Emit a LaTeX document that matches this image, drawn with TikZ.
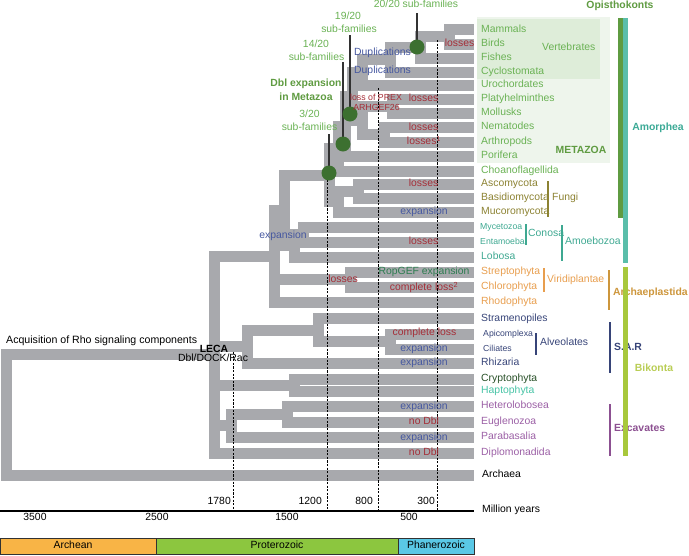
\documentclass[tikz,border=0pt]{standalone}
\usepackage{fontspec}
\setmainfont{Liberation Sans}
\definecolor{treegray}{RGB}{168,169,173}
\definecolor{metag}{RGB}{106,178,84}
\definecolor{fung}{RGB}{140,130,50}
\definecolor{amoe}{RGB}{62,168,145}
\definecolor{arch}{RGB}{232,158,78}
\definecolor{archb}{RGB}{205,150,60}
\definecolor{sarb}{RGB}{55,68,120}
\definecolor{crypt}{RGB}{40,80,40}
\definecolor{hapt}{RGB}{70,195,165}
\definecolor{exca}{RGB}{155,95,165}
\definecolor{excab}{RGB}{140,80,145}
\definecolor{redl}{RGB}{165,45,55}
\definecolor{bluel}{RGB}{70,88,160}
\definecolor{ropg}{RGB}{45,125,80}
\definecolor{circg}{RGB}{60,112,48}
\definecolor{opig}{RGB}{95,155,65}
\definecolor{amort}{RGB}{90,190,170}
\definecolor{amortx}{RGB}{60,170,150}
\definecolor{bikg}{RGB}{168,200,60}
\definecolor{bikx}{RGB}{185,205,85}
\definecolor{metabg}{RGB}{238,245,236}
\definecolor{vertbg}{RGB}{222,237,217}
\definecolor{archeanc}{RGB}{248,180,70}
\definecolor{proterc}{RGB}{140,198,63}
\definecolor{phanc}{RGB}{90,200,230}
\definecolor{linec}{RGB}{50,50,50}
\newcommand\tspan[3]{\draw[vb] (#1 |- #2) -- (#1 |- #3);}
\newcommand\tkid[2]{\draw[hb] (#1 |- #2) -- (#2);}
\begin{document}
\begin{tikzpicture}[x=1pt,y=-1pt,font=\fontsize{10.4}{12}\selectfont,
  vb/.style={draw=treegray,line width=11pt,line cap=rect},
  hb/.style={draw=treegray,line width=11pt,line cap=butt},
  dl/.style={black,line width=0.6pt,dash pattern=on 2.2pt off 1.4pt},
  tx/.style={inner sep=0pt,text height=7.5pt,text depth=2pt},
  lf/.style={tx,anchor=west},
  sm/.style={font=\fontsize{8.7}{10}\selectfont},
  bd/.style={font=\fontsize{10.4}{12}\selectfont\bfseries},
  brk/.style={line width=1.3pt},
  red/.style={tx,text=redl},
  blu/.style={tx,text=bluel},
  circ/.style={fill=circg},
  pin/.style={draw=linec,line width=1.6pt}]
\useasboundingbox (0,0) rectangle (689,555);
% background boxes
\fill[metabg] (477,17) rectangle (610,163);
\fill[vertbg] (477,19) rectangle (600,79);
% leaves
\coordinate (mam) at (474,29);
\coordinate (bir) at (474,44);
\coordinate (fis) at (474,58);
\coordinate (cyc) at (474,72);
\coordinate (uro) at (474,85);
\coordinate (pla) at (474,99);
\coordinate (mol) at (474,113);
\coordinate (nem) at (474,127);
\coordinate (art) at (474,142);
\coordinate (por) at (474,156);
\coordinate (cho) at (474,171);
\coordinate (asc) at (474,184);
\coordinate (bas) at (474,198);
\coordinate (muc) at (474,212);
\coordinate (myc) at (474,227);
\coordinate (ent) at (474,242);
\coordinate (lob) at (474,257);
\coordinate (str) at (474,272);
\coordinate (chl) at (474,287);
\coordinate (rho) at (474,302);
\coordinate (stm) at (474,318);
\coordinate (api) at (474,334);
\coordinate (cil) at (474,349);
\coordinate (rhz) at (474,363);
\coordinate (cry) at (474,379);
\coordinate (hap) at (474,391);
\coordinate (het) at (474,406);
\coordinate (eug) at (474,422);
\coordinate (par) at (474,437);
\coordinate (dip) at (474,453);
\coordinate (arc) at (474,475);
% internal nodes
\coordinate (amn) at (449,36.5);
\coordinate (gna) at (420,47.25);
\coordinate (ver) at (390,59.6);
\coordinate (cor) at (362,72.3);
\coordinate (lop) at (392,106);
\coordinate (ecd) at (384,134.5);
\coordinate (pro) at (362,120.25);
\coordinate (bil) at (352,96.3);
\coordinate (met) at (345,126);
\coordinate (hol) at (338,148.5);
\coordinate (dik) at (358,191);
\coordinate (fun) at (338,201.5);
\coordinate (opi) at (329,175);
\coordinate (con) at (303,234.5);
\coordinate (amz) at (294,245.75);
\coordinate (amo) at (284,210);
\coordinate (vir) at (350,279.5);
\coordinate (aa) at (274,256);
\coordinate (alv) at (390,341.5);
\coordinate (sa) at (318,330);
\coordinate (sar) at (247,346.4);
\coordinate (ch) at (294,385);
\coordinate (hee) at (287,414);
\coordinate (exc) at (231,425.5);
\coordinate (leca) at (214,354);
\coordinate (root) at (6,414);
% tree
\tspan{root}{leca}{arc}\tkid{root}{leca}\tkid{root}{arc}
\tspan{leca}{aa}{dip}\tkid{leca}{aa}\tkid{leca}{sar}\tkid{leca}{ch}\tkid{leca}{exc}\tkid{leca}{dip}
\tspan{aa}{amo}{rho}\tkid{aa}{amo}\tkid{aa}{vir}\tkid{aa}{rho}
\tspan{amo}{opi}{amz}\tkid{amo}{opi}\tkid{amo}{amz}
\tspan{opi}{hol}{fun}\tkid{opi}{hol}\tkid{opi}{fun}
\tspan{hol}{met}{cho}\tkid{hol}{met}\tkid{hol}{cho}
\tspan{met}{bil}{por}\tkid{met}{bil}\tkid{met}{por}
\tspan{bil}{cor}{pro}\tkid{bil}{cor}\tkid{bil}{pro}
\tspan{cor}{ver}{uro}\tkid{cor}{ver}\tkid{cor}{uro}
\tspan{ver}{gna}{cyc}\tkid{ver}{gna}\tkid{ver}{cyc}
\tspan{gna}{amn}{fis}\tkid{gna}{amn}\tkid{gna}{fis}
\tspan{amn}{mam}{bir}\tkid{amn}{mam}\tkid{amn}{bir}
\tspan{pro}{lop}{ecd}\tkid{pro}{lop}\tkid{pro}{ecd}
\tspan{lop}{pla}{mol}\tkid{lop}{pla}\tkid{lop}{mol}
\tspan{ecd}{nem}{art}\tkid{ecd}{nem}\tkid{ecd}{art}
\tspan{fun}{dik}{muc}\tkid{fun}{dik}\tkid{fun}{muc}
\tspan{dik}{asc}{bas}\tkid{dik}{asc}\tkid{dik}{bas}
\tspan{amz}{con}{lob}\tkid{amz}{con}\tkid{amz}{lob}
\tspan{con}{myc}{ent}\tkid{con}{myc}\tkid{con}{ent}
\tspan{vir}{str}{chl}\tkid{vir}{str}\tkid{vir}{chl}
\tspan{sar}{sa}{rhz}\tkid{sar}{sa}\tkid{sar}{rhz}
\tspan{sa}{stm}{alv}\tkid{sa}{stm}\tkid{sa}{alv}
\tspan{alv}{api}{cil}\tkid{alv}{api}\tkid{alv}{cil}
\tspan{ch}{cry}{hap}\tkid{ch}{cry}\tkid{ch}{hap}
\tspan{exc}{hee}{par}\tkid{exc}{hee}\tkid{exc}{par}
\tspan{hee}{het}{eug}\tkid{hee}{het}\tkid{hee}{eug}
% dashed time lines
\coordinate (d1t) at (233,352); \coordinate (d1b) at (233,511);
\coordinate (d2t) at (327,176); \coordinate (d2b) at (327,511);
\coordinate (d3t) at (378,88);  \coordinate (d3b) at (378,511);
\coordinate (d4t) at (437,40);  \coordinate (d4b) at (437,511);
\draw[dl] (d1t) -- (d1b); \draw[dl] (d2t) -- (d2b);
\draw[dl] (d3t) -- (d3b); \draw[dl] (d4t) -- (d4b);
% pins and circles
\coordinate (c1) at (417,47);  \coordinate (p1) at (417,13);
\coordinate (c2) at (350,114); \coordinate (p2) at (350,35);
\coordinate (c3) at (343,144); \coordinate (p3) at (343,62);
\coordinate (c4) at (329,173); \coordinate (p4) at (329,134);
\draw[pin] (p1) -- (c1); \draw[pin] (p2) -- (c2);
\draw[pin] (p3) -- (c3); \draw[pin] (p4) -- (c4);
\fill[circ] (c1) circle (7.5pt); \fill[circ] (c2) circle (7.5pt);
\fill[circ] (c3) circle (7.5pt); \fill[circ] (c4) circle (7.5pt);
\node[tx,text=metag] (t20) at (416,5) {20/20 sub-families};
\node[tx,text=metag] (t19a) at (348,17) {19/20};
\node[tx,text=metag] (t19b) at (349,30) {sub-families};
\node[tx,text=metag] (t14a) at (316,45) {14/20};
\node[tx,text=metag] (t14b) at (316.5,58) {sub-families};
\node[tx,text=opig,bd] (dbla) at (306,84) {Dbl expansion};
\node[tx,text=opig,bd] (dblb) at (306,98) {in Metazoa};
\node[tx,text=metag] (t3a) at (309.5,115) {3/20};
\node[tx,text=metag] (t3b) at (309.5,128) {sub-families};
% annotations on branches
\node[red] (a1) at (459.5,44) {losses};
\node[blu] (a2) at (382.5,53) {Duplications};
\node[blu] (a3) at (382.5,71) {Duplications};
\node[red,font=\fontsize{8.8}{10}\selectfont] (a4) at (376,98) {loss of PREX};
\node[red,font=\fontsize{8.8}{10}\selectfont] (a5) at (376.5,108) {ARHGEF26};
\node[red] (a6) at (423.5,99) {losses};
\node[red] (a7) at (423.5,128) {losses};
\node[red] (a8) at (424,142) {losses$^{\mathrm{1}}$};
\node[red] (a9) at (423.5,184) {losses};
\node[blu] (a10) at (424,212) {expansion};
\node[blu] (a11) at (283,236) {expansion};
\node[red] (a12) at (423.5,242) {losses};
\node[tx,text=ropg] (a13) at (424,272) {RopGEF expansion};
\node[red] (a14) at (343,280) {losses};
\node[red] (a15) at (424,288) {complete loss$^{\mathrm{2}}$};
\node[red] (a16) at (424.5,333) {complete loss};
\node[blu] (a17) at (424,349) {expansion};
\node[blu] (a18) at (424,363) {expansion};
\node[blu] (a19) at (424,407) {expansion};
\node[red] (a20) at (424,422) {no Dbl};
\node[blu] (a21) at (424,438) {expansion};
\node[red] (a22) at (424,453) {no Dbl};
\node[tx,anchor=west,font=\fontsize{10.6}{12}\selectfont] (acq) at (6,341) {Acquisition of Rho signaling components};
\node[tx,bd] (lecat) at (214,350) {LECA};
\node[tx] (dock) at (213,359) {Dbl/DOCK/Rac};
% leaf labels
\node[lf,text=metag] (l1) at (481,30) {Mammals};
\node[lf,text=metag] (l2) at (481,44) {Birds};
\node[lf,text=metag] (l3) at (481,58) {Fishes};
\node[lf,text=metag] (l4) at (481,72) {Cyclostomata};
\node[lf,text=metag] (l5) at (481,85) {Urochordates};
\node[lf,text=metag] (l6) at (481,99) {Platyhelminthes};
\node[lf,text=metag] (l7) at (481,113) {Mollusks};
\node[lf,text=metag] (l8) at (481,127) {Nematodes};
\node[lf,text=metag] (l9) at (481,142) {Arthropods};
\node[lf,text=metag] (l10) at (481,156) {Porifera};
\node[lf,text=metag] (l11) at (481,171) {Choanoflagellida};
\node[lf,text=fung] (l12) at (481,184) {Ascomycota};
\node[lf,text=fung] (l13) at (481,198) {Basidiomycota};
\node[lf,text=fung] (l14) at (481,212) {Mucoromycota};
\node[lf,text=amoe,sm] (l15) at (480,227) {Mycetozoa};
\node[lf,text=amoe,sm] (l16) at (480,242) {Entamoeba};
\node[lf,text=amoe] (l17) at (481,257) {Lobosa};
\node[lf,text=arch] (l18) at (481,272) {Streptophyta};
\node[lf,text=arch] (l19) at (481,287) {Chlorophyta};
\node[lf,text=arch] (l20) at (481,302) {Rhodophyta};
\node[lf,text=sarb] (l21) at (481,319) {Stramenopiles};
\node[lf,text=sarb,sm] (l22) at (483,334) {Apicomplexa};
\node[lf,text=sarb,sm] (l23) at (483,349) {Ciliates};
\node[lf,text=sarb] (l24) at (481,363) {Rhizaria};
\node[lf,text=crypt] (l25) at (481,379) {Cryptophyta};
\node[lf,text=hapt] (l26) at (481,391) {Haptophyta};
\node[lf,text=exca] (l27) at (481,406) {Heterolobosea};
\node[lf,text=exca] (l28) at (481,422) {Euglenozoa};
\node[lf,text=exca] (l29) at (481,437) {Parabasalia};
\node[lf,text=exca] (l30) at (481,453) {Diplomonadida};
\node[lf] (l31) at (482,475) {Archaea};
% group labels and brackets
\node[lf,text=metag] (gvert) at (542,48) {Vertebrates};
\node[tx,bd,text=opig] (gmeta) at (581,151) {METAZOA};
\coordinate (bf1) at (548,181); \coordinate (bf2) at (548,217);
\draw[brk,fung] (bf1) -- (bf2);
\node[lf,text=fung] (gfun) at (552,198) {Fungi};
\coordinate (bc1) at (526,224); \coordinate (bc2) at (526,245);
\draw[brk,amoe] (bc1) -- (bc2);
\node[lf,text=amoe] (gcon) at (528,234) {Conosa};
\coordinate (ba1) at (562,225); \coordinate (ba2) at (562,261);
\draw[brk,amoe] (ba1) -- (ba2);
\node[lf,text=amoe] (gamz) at (565,242) {Amoebozoa};
\coordinate (bv1) at (544,268); \coordinate (bv2) at (544,292);
\draw[brk,arch] (bv1) -- (bv2);
\node[lf,text=arch] (gvir) at (547,280) {Viridiplantae};
\coordinate (bl1) at (536,333); \coordinate (bl2) at (536,355);
\draw[brk,sarb] (bl1) -- (bl2);
\node[lf,text=sarb] (galv) at (540,343) {Alveolates};
\coordinate (bp1) at (609,270); \coordinate (bp2) at (609,310);
\draw[brk,archb] (bp1) -- (bp2);
\node[tx,bd,text=archb,anchor=west] (garc) at (613,293) {Archaeplastida};
\coordinate (bs1) at (610,322); \coordinate (bs2) at (610,373);
\draw[brk,sarb] (bs1) -- (bs2);
\node[tx,bd,text=sarb,anchor=west] (gsar) at (614,348) {S.A.R};
\coordinate (be1) at (610,404); \coordinate (be2) at (610,456);
\draw[brk,excab] (be1) -- (be2);
\node[tx,bd,text=excab,anchor=west] (gexc) at (614,429) {Excavates};
% super-group bars
\fill[opig] (618,18) rectangle (623,218);
\fill[amort] (623,18) rectangle (628,263);
\fill[bikg] (623,267) rectangle (628,456);
\node[tx,bd,text=opig] (gopi) at (620,6) {Opisthokonts};
\node[tx,bd,text=amortx] (gamo) at (658,128) {Amorphea};
\node[tx,bd,text=bikx] (gbik) at (654,369) {Bikonta};
% time axis
\coordinate (ax0) at (0,511); \coordinate (ax1) at (474,511);
\draw[line width=1.5pt] (ax0) -- (ax1);
\node[tx,anchor=east] (y1780) at (231,502) {1780};
\node[tx,anchor=east] (y1200) at (322,502) {1200};
\node[tx,anchor=east] (y800) at (373,502) {800};
\node[tx,anchor=east] (y300) at (435,502) {300};
\node[tx] (y3500) at (35,518) {3500};
\node[tx] (y2500) at (157,518) {2500};
\node[tx] (y1500) at (287,518) {1500};
\node[tx] (y500) at (409,518) {500};
\node[lf] (myr) at (482,510) {Million years};
% eras
\draw[fill=archeanc,draw=linec,line width=0.6pt] (0.5,538) rectangle (156,554.5);
\draw[fill=proterc,draw=linec,line width=0.6pt] (156,538) rectangle (398,554.5);
\draw[fill=phanc,draw=linec,line width=0.6pt] (398,538) rectangle (474,554.5);
\node[tx] (e1) at (73,546) {Archean};
\node[tx] (e2) at (277,546) {Proterozoic};
\node[tx] (e3) at (436,546) {Phanerozoic};
\end{tikzpicture}
\end{document}
